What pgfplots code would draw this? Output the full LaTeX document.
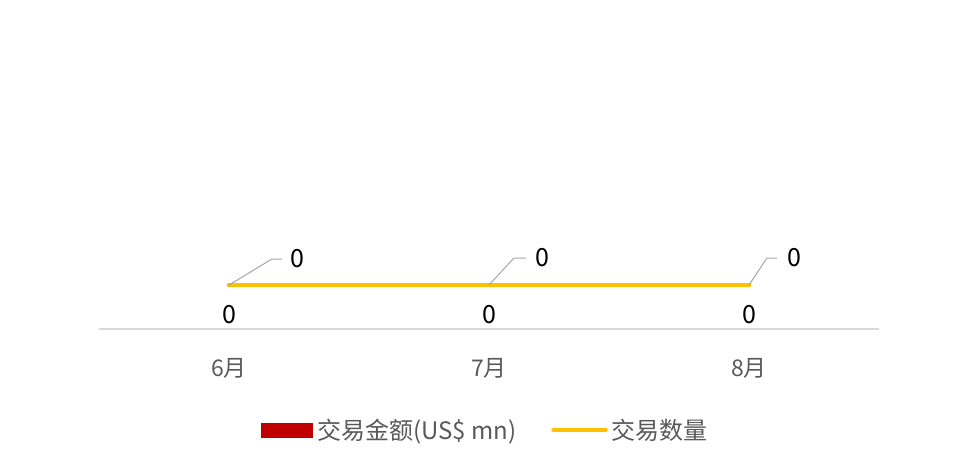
\documentclass[border=0pt]{standalone}
\usepackage{pgfplots}
\pgfplotsset{compat=1.18}
\usepackage{fontspec}
\setmainfont{Noto Sans CJK SC}
\definecolor{barred}{HTML}{C00000}
\definecolor{lineyel}{HTML}{FFC000}
\definecolor{txtgray}{HTML}{595959}
\definecolor{axgray}{HTML}{D9D9D9}
\definecolor{leadgray}{HTML}{A6A6A6}
\begin{document}
\begin{tikzpicture}
\useasboundingbox (0,0) rectangle (960pt,469pt);
% primary axis: amounts (bars)
\begin{axis}[
	at={(99pt,140pt)}, anchor=south west,
	scale only axis, width=780pt, height=300pt,
	xmin=-0.5, xmax=2.5, ymin=0, ymax=1,
	axis y line=none, axis x line*=bottom,
	x axis line style={axgray, line width=1.2pt, -},
	xtick={0,1,2}, xticklabels={6月,7月,8月},
	major tick length=0pt,
	xticklabel style={txtgray, font=\fontsize{23pt}{27pt}\selectfont, yshift=-26pt},
	ytick=\empty,
	/pgf/number format/assume math mode=true,
	ybar, bar width=60pt,
	nodes near coords,
	every node near coord/.append style={black, anchor=center, yshift=14pt,
		font=\fontsize{25pt}{29pt}\selectfont},
	clip=false]
\addplot[fill=none, draw=none] coordinates {(0,0) (1,0) (2,0)};
\end{axis}
% secondary axis: counts (line)
\begin{axis}[
	at={(99pt,140pt)}, anchor=south west,
	scale only axis, width=780pt, height=300pt,
	xmin=-0.5, xmax=2.5, ymin=-0.44, ymax=2.56,
	hide axis, clip=false,
	legend columns=2,
	legend style={at={(0.494,-0.337)}, anchor=center, draw=none, fill=none,
		font=\fontsize{24pt}{28pt}\selectfont, text=txtgray,
		nodes={inner sep=0pt},
		/tikz/column 1/.style={column sep=5pt},
		/tikz/column 2/.style={column sep=35pt},
		/tikz/column 3/.style={column sep=4pt}},
	legend cell align=left]
\addlegendimage{legend image code/.code={\fill[barred] (0pt,-7pt) rectangle (51pt,7pt);}}
\addlegendentry{交易金额(US\$ mn)}
\addplot[lineyel, line width=4.8pt, line cap=round, no marks,
	legend image code/.code={\draw[lineyel, line width=4.5pt, line cap=round] (1pt,0) -- (53pt,0);}]
	coordinates {(0,0) (1,0) (2,0)};
\addlegendentry{交易数量}
% data labels with leader lines
\addplot[leadgray, line width=1pt, forget plot] coordinates {(0,0) (0.165,0.26) (0.204,0.26)}
	node[pos=1, anchor=west, black, inner sep=0pt, xshift=8pt, font=\fontsize{25pt}{29pt}\selectfont] {0};
\addplot[leadgray, line width=1pt, forget plot] coordinates {(1,0) (1.096,0.27) (1.142,0.27)}
	node[pos=1, anchor=west, black, inner sep=0pt, xshift=9pt, font=\fontsize{25pt}{29pt}\selectfont] {0};
\addplot[leadgray, line width=1pt, forget plot] coordinates {(2,0) (2.069,0.27) (2.108,0.27)}
	node[pos=1, anchor=west, black, inner sep=0pt, xshift=10pt, font=\fontsize{25pt}{29pt}\selectfont] {0};
\end{axis}
\end{tikzpicture}
\end{document}
